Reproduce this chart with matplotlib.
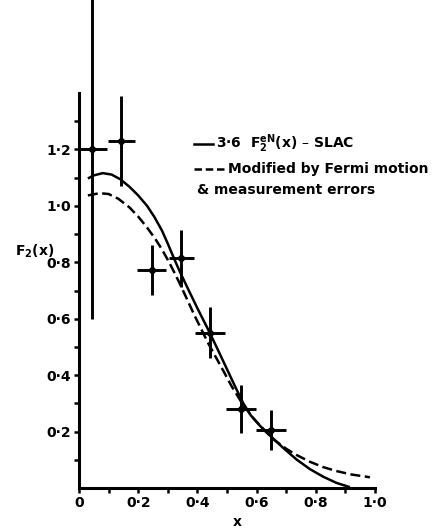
import matplotlib
matplotlib.use("Agg")
import matplotlib.pyplot as plt
from matplotlib.lines import Line2D
import numpy as np

plt.rcParams['font.family'] = ['DejaVu Sans']
plt.rcParams['font.weight'] = 'bold'
plt.rcParams['mathtext.fontset'] = 'dejavusans'
plt.rcParams['mathtext.default'] = 'bf'

# Measured F2(x) points with x and y errors
data_x = [0.045, 0.143, 0.245, 0.345, 0.443, 0.547, 0.649]
data_y = [1.20, 1.23, 0.772, 0.814, 0.551, 0.280, 0.205]
data_xerr = [0.05, 0.046, 0.049, 0.042, 0.05, 0.05, 0.05]
data_yerr = [0.60, 0.16, 0.088, 0.10, 0.089, 0.086, 0.071]

# 3.6 F2^eN(x) from SLAC
slac_x = [0.03, 0.05, 0.08, 0.11, 0.14, 0.17, 0.20, 0.23, 0.255, 0.28, 0.30,
          0.32, 0.341, 0.37, 0.40, 0.44, 0.47, 0.50, 0.53, 0.555, 0.58, 0.61,
          0.645, 0.69, 0.735, 0.78, 0.825, 0.87, 0.915]
slac_y = [1.097, 1.108, 1.116, 1.111, 1.094, 1.068, 1.037, 1.000, 0.960, 0.913,
          0.866, 0.816, 0.766, 0.702, 0.637, 0.554, 0.488, 0.421, 0.354, 0.300,
          0.258, 0.222, 0.186, 0.142, 0.101, 0.067, 0.040, 0.018, 0.003]

# Modified by Fermi motion & measurement errors
mod_x = [0.03, 0.07, 0.10, 0.133, 0.17, 0.20, 0.23, 0.257, 0.28, 0.302, 0.325,
         0.347, 0.39, 0.437, 0.48, 0.516, 0.55, 0.59, 0.63, 0.66, 0.70, 0.735,
         0.78, 0.825, 0.87, 0.92, 0.983]
mod_y = [1.037, 1.045, 1.042, 1.025, 0.995, 0.962, 0.923, 0.884, 0.846, 0.805,
         0.758, 0.710, 0.612, 0.512, 0.430, 0.360, 0.302, 0.246, 0.201, 0.170,
         0.139, 0.117, 0.093, 0.074, 0.060, 0.048, 0.038]

xtick_vals = [0, 0.2, 0.4, 0.6, 0.8, 1.0]
xtick_labels = ["0", "0·2", "0·4", "0·6", "0·8", "1·0"]
ytick_vals = [0.2, 0.4, 0.6, 0.8, 1.0, 1.2]
ytick_labels = ["0·2", "0·4", "0·6", "0·8", "1·0", "1·2"]

W, H = 433, 528
fig = plt.figure(figsize=(W / 100, H / 100), dpi=100)
ax = fig.add_axes([79 / W, 40 / H, (375 - 79) / W, (488 - 93) / H])

ax.plot(slac_x, slac_y, color='black', lw=1.8, solid_capstyle='butt')
ax.plot(mod_x, mod_y, color='black', lw=1.8, dashes=(4, 1.8))

eb = ax.errorbar(data_x, data_y, xerr=data_xerr, yerr=data_yerr, fmt='o',
                 ms=4, color='black', ecolor='black', elinewidth=2.1,
                 capsize=0)
for art in eb.lines:
    if art is None:
        continue
    if isinstance(art, tuple):
        for a in art:
            a.set_clip_on(False)
    else:
        art.set_clip_on(False)
for coll in eb[2]:
    coll.set_clip_on(False)

ax.set_xlim(0, 1.0)
ax.set_ylim(0, 1.4)
for side in ('top', 'right'):
    ax.spines[side].set_visible(False)
for side in ('left', 'bottom'):
    ax.spines[side].set_linewidth(2.2)

ax.set_xticks(xtick_vals)
ax.set_xticklabels(xtick_labels)
ax.set_xticks(np.arange(0.1, 1.0, 0.2), minor=True)
ax.set_yticks(ytick_vals)
ax.set_yticklabels(ytick_labels)
ax.set_yticks(np.arange(0.1, 1.35, 0.2), minor=True)
ax.tick_params(which='both', direction='out', length=3.5, width=1.8,
               labelsize=10, pad=2)
for lab in ax.get_xticklabels() + ax.get_yticklabels():
    lab.set_fontweight('bold')

fig.text(237 / W, 1 - 522 / H, "x", ha='center', va='center',
         fontsize=10, fontweight='bold')
fig.text(15 / W, 1 - 256 / H, "F$_2$(x)", ha='left', va='baseline',
         fontsize=10, fontweight='bold')

# legend
fig.add_artist(Line2D([194 / W, 213 / W], [1 - 144 / H, 1 - 144 / H],
                      color='black', lw=1.8))
fig.add_artist(Line2D([194 / W, 224 / W], [1 - 169 / H, 1 - 169 / H],
                      color='black', lw=1.8, dashes=(3, 1.5)))
fig.text(216 / W, 1 - 144 / H, "3·6  F$_2^{eN}$(x) – SLAC", ha='left',
         va='center', fontsize=10, fontweight='bold')
fig.text(228 / W, 1 - 169 / H, "Modified by Fermi motion", ha='left',
         va='center', fontsize=10, fontweight='bold')
fig.text(197 / W, 1 - 190 / H, "& measurement errors", ha='left',
         va='center', fontsize=10, fontweight='bold')

fig.savefig("out.png", dpi=100)
